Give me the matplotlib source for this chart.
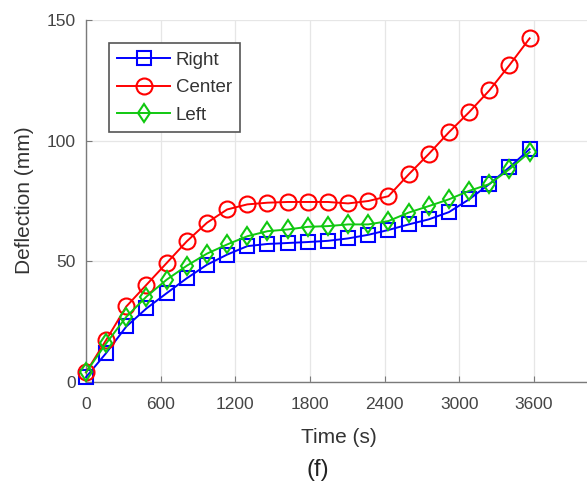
import numpy as np
import matplotlib.pyplot as plt

plt.rcParams['font.family'] = ['Liberation Sans', 'DejaVu Sans']

# Time stamps of the readings (s)
time_s = [0, 162, 324, 486, 648, 810, 972, 1134, 1296, 1458, 1620, 1782,
          1944, 2106, 2268, 2430, 2592, 2754, 2916, 3078, 3240, 3402, 3564]

# Deflection at each gauge (mm)
right = [2.0, 12.0, 23.0, 30.5, 36.8, 43.0, 48.6, 52.8, 56.3, 57.2, 57.6, 58.0,
         58.5, 59.5, 61.0, 63.0, 65.3, 67.4, 70.4, 75.7, 82.0, 89.0, 96.5]
center = [4.0, 17.4, 31.3, 40.3, 49.3, 58.3, 66.0, 71.5, 73.6, 74.3, 74.6, 74.6,
          74.6, 74.0, 75.0, 77.0, 86.0, 94.5, 103.5, 111.8, 120.8, 131.3, 142.4]
left = [4.0, 16.0, 27.0, 35.4, 42.4, 48.2, 53.2, 57.0, 60.4, 62.5, 63.2, 64.3,
        64.6, 65.3, 65.3, 66.7, 70.2, 72.9, 75.7, 79.2, 82.0, 88.2, 95.2]

x_ticks = [0, 600, 1200, 1800, 2400, 3000, 3600]
y_ticks = [0, 50, 100, 150]

text_col = '#333333'
tick_col = '#444444'
axis_col = '#7a7a7a'

fig = plt.figure(figsize=(5.87, 4.87), dpi=100)
ax = fig.add_axes([0.1465, 0.2156, 0.8535, 0.7433])

style = dict(linewidth=1.4, markeredgewidth=1.5, markerfacecolor='none',
             clip_on=False, zorder=3)
ax.plot(time_s, right, color='#0000ff', marker='s', markersize=9.5,
        label='Right', **style)
ax.plot(time_s, center, color='#ff0000', marker='o', markersize=11.5,
        label='Center', **style)
ax.plot(time_s, left, color='#10c810', marker='d', markersize=9.5,
        label='Left', **style)

ax.set_xlim(0, 4025)
ax.set_ylim(0, 150)
ax.set_xticks(x_ticks)
ax.set_yticks(y_ticks)
ax.grid(True, color='#e6e6e6', linewidth=0.9)
ax.set_axisbelow(True)

for side in ['top', 'right']:
    ax.spines[side].set_visible(False)
for side in ['left', 'bottom']:
    ax.spines[side].set_color(axis_col)
    ax.spines[side].set_linewidth(1.0)

ax.tick_params(direction='in', length=4, color=axis_col, labelcolor=tick_col,
               labelsize=12.5)
ax.tick_params(axis='x', pad=11)
ax.tick_params(axis='y', pad=7.5)

ax.set_xlabel('Time (s)', fontsize=15, color=text_col, va='center')
ax.set_ylabel('Deflection (mm)', fontsize=15, color=text_col, va='center')
ax.xaxis.set_label_coords(0.505, -0.152)
ax.yaxis.set_label_coords(-0.122, 0.503)

leg = ax.legend(loc='upper left', bbox_to_anchor=(0.046, 0.936), borderaxespad=0,
                fontsize=13.5, fancybox=False, framealpha=1, edgecolor='#555555',
                handlelength=2.8, borderpad=0.45, labelspacing=0.55,
                handletextpad=0.3)
leg.get_frame().set_linewidth(1.2)
for t in leg.get_texts():
    t.set_color(text_col)

fig.text(0.542, 0.035, '(f)', ha='center', va='center', fontsize=17, color='#222222')

fig.savefig('out.png', dpi=100)
